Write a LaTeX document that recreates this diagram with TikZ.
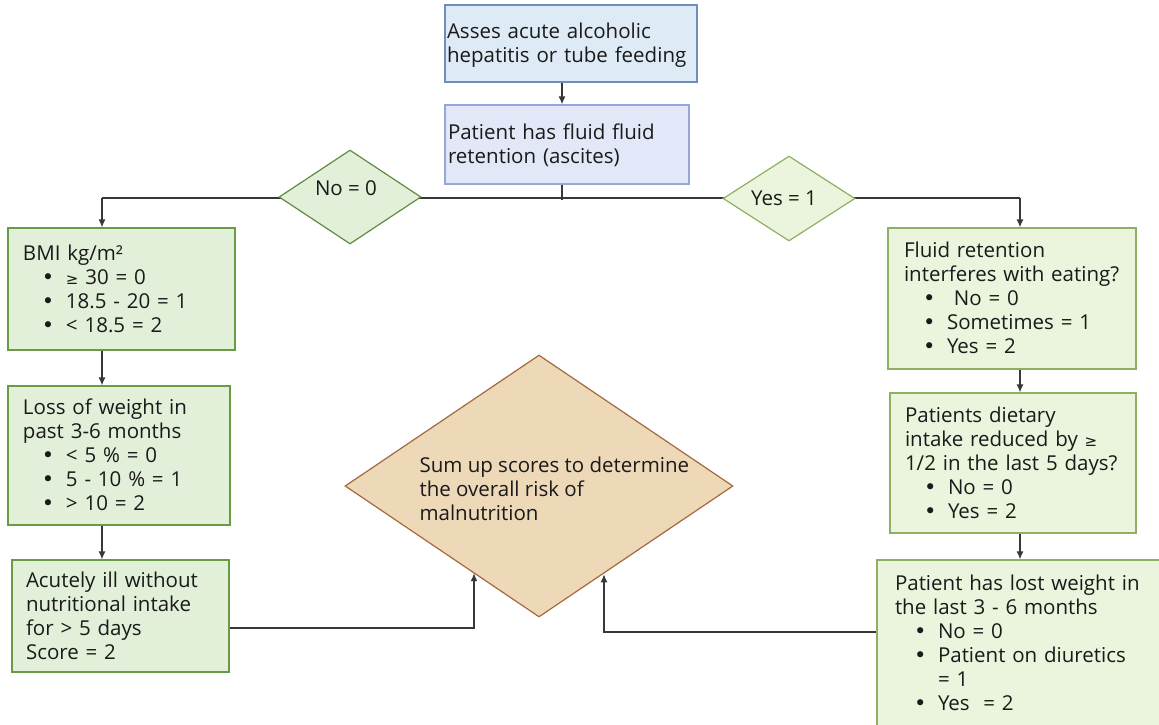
\documentclass[tikz,border=0pt]{standalone}
\usepackage{fontspec}
\setmainfont{Open Sans}
\newfontfamily\symf{DejaVu Sans}
\usetikzlibrary{arrows.meta,shapes.geometric}
\definecolor{topfill}{HTML}{DEEBF7}
\definecolor{topdraw}{HTML}{6F8FBA}
\definecolor{qfill}{HTML}{E3E8F8}
\definecolor{qdraw}{HTML}{97A6D8}
\definecolor{gfill}{HTML}{E2F0D9}
\definecolor{gdraw}{HTML}{6B9A47}
\definecolor{yfill}{HTML}{EBF4DC}
\definecolor{ydraw}{HTML}{8FAF62}
\definecolor{sumfill}{HTML}{EDD8B8}
\definecolor{sumdraw}{HTML}{A5683F}
\definecolor{linec}{HTML}{383838}
\definecolor{txt}{HTML}{1A1A1A}
\newcommand{\tl}[1]{\raisebox{-2.5pt}[\height][\depth]{\begin{tabular}{@{}l@{}}#1\end{tabular}}}
\newcommand{\bi}[1]{\hspace*{19pt}\makebox[24pt][l]{\symf\fontsize{21}{24}\selectfont •}#1}
\newcommand{\myge}{{\symf\fontsize{15}{24}\selectfont ≥}}
\begin{document}
\begin{tikzpicture}[x=1pt,y=-1pt,
  every node/.style={font=\fontsize{20.5}{24}\selectfont, text=txt},
  box/.style={draw, rectangle, line width=1.2pt, align=left, inner ysep=0pt},
  gbox/.style={box, fill=gfill, draw=gdraw},
  ybox/.style={box, fill=yfill, draw=ydraw},
  dia/.style={diamond, line width=1.2pt, inner sep=0pt},
  line/.style={draw=linec, line width=1.3pt},
  arr/.style={line, -{Latex[length=8pt,width=7pt]}}]
\useasboundingbox (0,0) rectangle (1159,725);
\coordinate (xm) at (562,0);
\coordinate (jl) at (102,198);
\coordinate (jr) at (1020,198);
\coordinate (l1) at (474,628);
\coordinate (r1) at (604,632);

\node[box, fill=topfill, draw=topdraw, minimum width=252pt, minimum height=77pt,
  inner xsep=2pt, text width=248pt] (top) at (571,43.5)
  {\tl{Asses acute alcoholic\\hepatitis or tube feeding}};
\node[box, fill=qfill, draw=qdraw, minimum width=244pt, minimum height=79pt,
  inner xsep=3pt, text width=238pt] (q) at (567,144.5)
  {\tl{Patient has fluid fluid\\retention (ascites)}};

\draw[arr] (top.south -| xm) -- (q.north -| xm);
\draw[line] (q.south -| xm) -- ([yshift=-2pt]xm |- jl);
\draw[line] (jl) -- (jr);

\node[dia, fill=gfill, draw=gdraw!90!black, minimum width=142pt, minimum height=94pt] (no) at (350,197) {};
\node (not) at (346,188) {No = 0};
\node[dia, fill=yfill, draw=ydraw, minimum width=132pt, minimum height=85pt] (yes) at (789,198.5) {};
\node (yest) at (784,198) {Yes = 1};

\node[gbox, minimum width=227pt, minimum height=122pt, inner xsep=15pt, text width=197pt] (bmi) at (121.5,289)
  {\tl{BMI kg/m²\\\bi{\myge\ 30 = 0}\\\bi{18.5 - 20 = 1}\\\bi{< 18.5 = 2}}};
\node[gbox, minimum width=222pt, minimum height=139pt, inner xsep=15pt, text width=192pt] (loss) at (119,455.5)
  {\tl{Loss of weight in\\past 3-6 months\\\bi{< 5 \% = 0}\\\bi{5 - 10 \% = 1}\\\bi{> 10 = 2}}};
\node[gbox, minimum width=217pt, minimum height=112pt, inner xsep=14pt, text width=189pt] (acute) at (120.5,616)
  {\tl{Acutely ill without\\nutritional intake\\for > 5 days\\Score = 2}};

\node[ybox, minimum width=248pt, minimum height=141pt, inner xsep=16pt, text width=216pt] (fluid) at (1012,298.5)
  {\tl{Fluid retention\\interferes with eating?\\\bi{\ No = 0}\\\bi{Sometimes = 1}\\\bi{Yes = 2}}};
\node[ybox, minimum width=246pt, minimum height=140pt, inner xsep=15pt, text width=216pt] (diet) at (1013,463)
  {\tl{Patients dietary\\intake reduced by \myge\\1/2 in the last 5 days?\\\bi{No = 0}\\\bi{Yes = 2}}};
\node[ybox, minimum width=288pt, minimum height=166pt, inner xsep=18pt, text width=252pt] (lost) at (1021,643)
  {\tl{Patient has lost weight in\\the last 3 - 6 months\\\bi{No = 0}\\\bi{Patient on diuretics}\\\hspace*{43pt}= 1\\\bi{Yes\ \ = 2}}};

\node[dia, fill=sumfill, draw=sumdraw, minimum width=388pt, minimum height=262pt] (sum) at (539,486) {};
\node[anchor=west, align=left] (sumt) at (416,489)
  {\tl{Sum up scores to determine\\the overall risk of\\malnutrition}};

\draw[arr] (jl) -- (bmi.north -| jl);
\draw[arr] (jr) -- (fluid.north -| jr);
\draw[arr] (bmi.south -| jl) -- (loss.north -| jl);
\draw[arr] (loss.south -| jl) -- (acute.north -| jl);
\draw[arr] (fluid.south -| jr) -- (diet.north -| jr);
\draw[arr] (diet.south -| jr) -- (lost.north -| jr);
\draw[arr] (acute.east |- l1) -- (l1) -- (l1 |- sum.233.6);
\draw[arr] (lost.west |- r1) -- (r1) -- (r1 |- sum.306.4);
\end{tikzpicture}
\end{document}
